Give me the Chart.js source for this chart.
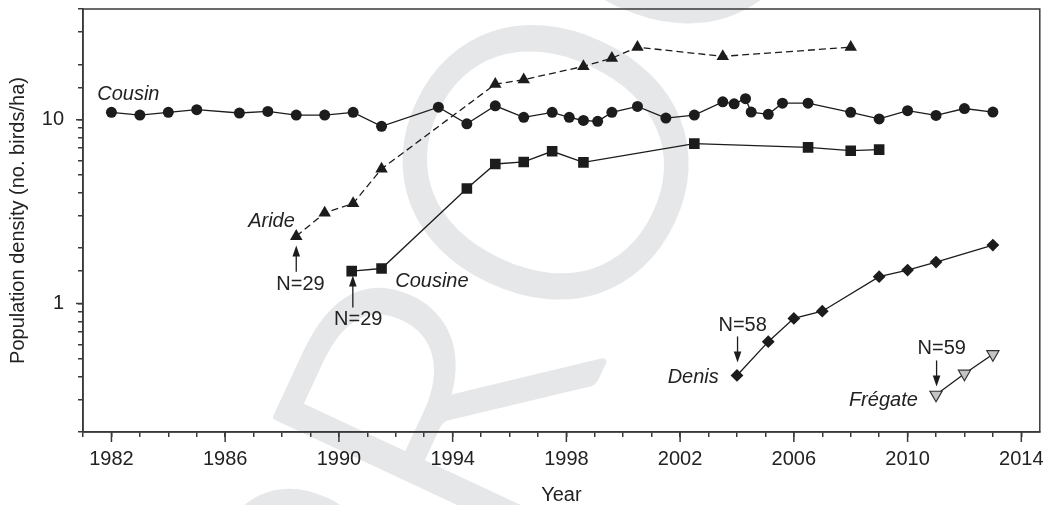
<!DOCTYPE html>
<html>
<head>
<meta charset="utf-8">
<script src="https://cdn.jsdelivr.net/npm/chart.js@4.4.0/dist/chart.umd.min.js"></script>
<style>
  html, body { margin: 0; padding: 0; background: #ffffff; }
  #wrap { width: 1048px; height: 505px; }
</style>
</head>
<body>
<div id="wrap"><canvas id="chart" width="1048" height="505"></canvas></div>
<script>
// island series (year, birds/ha)
const cousinYears = [1982, 1983, 1984, 1985, 1986.5, 1987.5, 1988.5, 1989.5, 1990.5, 1991.5, 1993.5, 1994.5, 1995.5, 1996.5, 1997.5, 1998.1, 1998.6, 1999.1, 1999.6, 2000.5, 2001.5, 2002.5, 2003.5, 2003.9, 2004.3, 2004.5, 2005.1, 2005.6, 2006.5, 2008, 2009, 2010, 2011, 2012, 2013];
const cousinValues = [10.96, 10.6, 10.96, 11.33, 10.87, 11.09, 10.6, 10.6, 10.96, 9.2, 11.7, 9.5, 11.9, 10.3, 10.96, 10.3, 9.9, 9.8, 10.96, 11.8, 10.2, 10.6, 12.5, 12.2, 13.0, 11.0, 10.7, 12.3, 12.3, 10.96, 10.1, 11.2, 10.55, 11.5, 11.0];

const arideYears = [1988.5, 1989.5, 1990.5, 1991.5, 1995.5, 1996.5, 1998.6, 1999.6, 2000.5, 2003.5, 2008];
const arideValues = [2.32, 3.11, 3.5, 5.4, 15.6, 16.5, 19.5, 21.6, 24.8, 22.1, 24.8];

const cousineYears = [1990.45, 1991.5, 1994.5, 1995.5, 1996.5, 1997.5, 1998.6, 2002.5, 2006.5, 2008, 2009];
const cousineValues = [1.50, 1.55, 4.22, 5.74, 5.89, 6.73, 5.86, 7.41, 7.07, 6.78, 6.87];

const denisYears = [2004, 2005.1, 2006, 2007, 2009, 2010, 2011, 2013];
const denisValues = [0.406, 0.62, 0.83, 0.908, 1.40, 1.52, 1.68, 2.08];

const fregateYears = [2011, 2012, 2013];
const fregateValues = [0.319, 0.415, 0.53];

const yLabelTicks = [1, 10];
const xLabelEvery = 4;

// labels and arrows placed in data units
const notes = [
  { text: "Cousin", x: 1981.5, y: 13.8, align: "left", italic: true },
  { text: "Aride", x: 1988.45, y: 2.79, align: "right", italic: true },
  { text: "N=29", x: 1988.65, y: 1.27, align: "center", italic: false },
  { text: "Cousine", x: 1991.98, y: 1.32, align: "left", italic: true },
  { text: "N=29", x: 1990.68, y: 0.82, align: "center", italic: false },
  { text: "Denis", x: 2003.36, y: 0.396, align: "right", italic: true },
  { text: "N=58", x: 2004.2, y: 0.76, align: "center", italic: false },
  { text: "N=59", x: 2011.2, y: 0.569, align: "center", italic: false },
  { text: "Frégate", x: 2010.36, y: 0.297, align: "right", italic: true }
];
const arrows = [
  { x: 1988.5, from: 1.49, to: 2.07 },
  { x: 1990.49, from: 0.95, to: 1.42 },
  { x: 2004.02, from: 0.662, to: 0.478 },
  { x: 2011.02, from: 0.49, to: 0.354 }
];

const FONT = "'Liberation Sans', Arial, Helvetica, sans-serif";
const INK = "#1c1c1c";
const AXIS = "#3a3a3a";

function pts(xs, ys) {
  return xs.map((x, i) => ({ x: x, y: ys[i] }));
}

// faint "PROOF" stamp behind the figure
const watermark = {
  id: "watermark",
  beforeDraw(chart) {
    const ctx = chart.ctx;
    const size = 385;
    ctx.save();
    ctx.fillStyle = "#e6e7e9";
    ctx.strokeStyle = "#e6e7e9";
    ctx.lineWidth = 7;
    ctx.lineJoin = "round";
    ctx.font = "300 " + size + "px Lato, Roboto, sans-serif";
    ctx.translate(544, 160);
    ctx.rotate(-65 * Math.PI / 180);
    ctx.textBaseline = "alphabetic";
    ctx.textAlign = "left";
    const offset = ctx.measureText("PR").width + ctx.measureText("O").width / 2;
    ctx.fillText("PROOF", -offset, size * 0.36);
    ctx.strokeText("PROOF", -offset, size * 0.36);
    ctx.restore();
  }
};

const decorations = {
  id: "decorations",
  afterDraw(chart) {
    const ctx = chart.ctx;
    const area = chart.chartArea;
    const xs = chart.scales.x;
    const ys = chart.scales.y;
    ctx.save();
    // frame
    ctx.strokeStyle = AXIS;
    ctx.lineWidth = 1.5;
    ctx.strokeRect(area.left, area.top, area.right - area.left, area.bottom - area.top);
    // longer major ticks
    ctx.beginPath();
    for (let yr = 1982; yr <= 2014; yr += xLabelEvery) {
      const px = xs.getPixelForValue(yr);
      ctx.moveTo(px, area.bottom);
      ctx.lineTo(px, area.bottom + 10);
    }
    yLabelTicks.forEach((v) => {
      const py = ys.getPixelForValue(v);
      ctx.moveTo(area.left, py);
      ctx.lineTo(area.left - 7, py);
    });
    ctx.stroke();

    // arrows
    ctx.strokeStyle = INK;
    ctx.fillStyle = INK;
    ctx.lineWidth = 1.3;
    arrows.forEach((a) => {
      const px = xs.getPixelForValue(a.x);
      const p0 = ys.getPixelForValue(a.from);
      const p1 = ys.getPixelForValue(a.to);
      const dir = p1 > p0 ? 1 : -1;
      ctx.beginPath();
      ctx.moveTo(px, p0);
      ctx.lineTo(px, p1 - dir * 8);
      ctx.stroke();
      ctx.beginPath();
      ctx.moveTo(px, p1);
      ctx.lineTo(px - 3.8, p1 - dir * 11);
      ctx.lineTo(px + 3.8, p1 - dir * 11);
      ctx.closePath();
      ctx.fill();
    });

    // text notes
    ctx.fillStyle = "#222222";
    ctx.textBaseline = "middle";
    notes.forEach((n) => {
      ctx.font = (n.italic ? "italic " : "") + "20px " + FONT;
      ctx.textAlign = n.align;
      ctx.fillText(n.text, xs.getPixelForValue(n.x), ys.getPixelForValue(n.y));
    });
    ctx.restore();
  }
};

const ctx = document.getElementById("chart").getContext("2d");

new Chart(ctx, {
  type: "scatter",
  data: {
    datasets: [
      {
        label: "Cousin",
        data: pts(cousinYears, cousinValues),
        showLine: true,
        borderColor: INK,
        borderWidth: 1.3,
        backgroundColor: INK,
        pointStyle: "circle",
        pointRadius: 5.5,
        pointBorderWidth: 0
      },
      {
        label: "Aride",
        data: pts(arideYears, arideValues),
        showLine: true,
        borderColor: INK,
        borderWidth: 1.3,
        borderDash: [7, 4],
        backgroundColor: INK,
        pointStyle: "triangle",
        pointRadius: 7.2,
        pointBorderWidth: 0
      },
      {
        label: "Cousine",
        data: pts(cousineYears, cousineValues),
        showLine: true,
        borderColor: INK,
        borderWidth: 1.3,
        backgroundColor: INK,
        pointStyle: "rect",
        pointRadius: 7.5,
        pointBorderWidth: 0
      },
      {
        label: "Denis",
        data: pts(denisYears, denisValues),
        showLine: true,
        borderColor: INK,
        borderWidth: 1.3,
        backgroundColor: INK,
        pointStyle: "rectRot",
        pointRadius: 6.4,
        pointBorderWidth: 0
      },
      {
        label: "Frégate",
        data: pts(fregateYears, fregateValues),
        showLine: true,
        borderColor: INK,
        borderWidth: 1.3,
        backgroundColor: "#c4c4c4",
        pointBorderColor: "#333333",
        pointStyle: "triangle",
        rotation: 180,
        pointRadius: 7,
        pointBorderWidth: 1.2
      }
    ]
  },
  options: {
    responsive: false,
    animation: false,
    devicePixelRatio: 1,
    layout: { padding: { top: 9, right: 8, left: 0, bottom: 0 } },
    plugins: {
      legend: { display: false },
      tooltip: { enabled: false }
    },
    scales: {
      x: {
        type: "linear",
        min: 1981,
        max: 2014.65,
        afterFit: (scale) => {
          scale.height = 73;
          scale.paddingLeft = 0;
          scale.paddingRight = 0;
        },
        ticks: {
          stepSize: 1,
          includeBounds: false,
          autoSkip: false,
          maxRotation: 0,
          padding: 10,
          color: "#222222",
          font: { size: 20, family: FONT },
          callback: (v) => ((v - 1982) % xLabelEvery === 0 ? String(v) : "")
        },
        grid: {
          drawOnChartArea: false,
          drawTicks: true,
          tickLength: 5,
          color: AXIS,
          lineWidth: 1.5
        },
        border: { color: AXIS, width: 1.5 },
        title: {
          display: true,
          text: "Year",
          color: "#222222",
          font: { size: 20, family: FONT, lineHeight: 1.0 },
          padding: { top: 0, bottom: 0 }
        }
      },
      y: {
        type: "logarithmic",
        min: 0.2,
        max: 40,
        afterFit: (scale) => {
          scale.width = 83;
          scale.paddingTop = 0;
          scale.paddingBottom = 0;
        },
        ticks: {
          autoSkip: false,
          padding: 14,
          color: "#222222",
          font: { size: 20, family: FONT },
          callback: (v) => (yLabelTicks.includes(v) ? String(v) : "")
        },
        grid: {
          drawOnChartArea: false,
          drawTicks: true,
          tickLength: 5,
          color: AXIS,
          lineWidth: 1.5
        },
        border: { color: AXIS, width: 1.5 },
        title: {
          display: true,
          text: "Population density (no. birds/ha)",
          color: "#222222",
          font: { size: 20, family: FONT, lineHeight: 1.1 },
          padding: { top: 7, bottom: 0 }
        }
      }
    }
  },
  plugins: [watermark, decorations]
});
</script>
</body>
</html>
